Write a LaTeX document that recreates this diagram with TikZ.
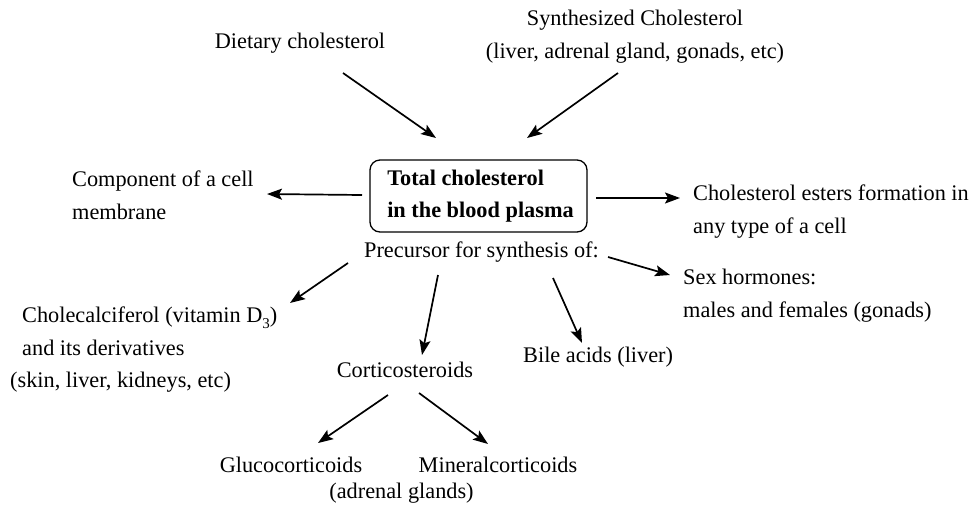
\documentclass[tikz,border=0pt]{standalone}
\usepackage{fontspec}
\setmainfont{Liberation Serif}
\usetikzlibrary{arrows.meta,calc}
\tikzset{
  lbl/.style={inner sep=0pt, font=\fontsize{22.3}{33}\selectfont},
  arr/.style={line width=1.7pt, -{Stealth[length=15pt,width=11pt,inset=3pt]}},
  mainbox/.style={draw, line width=1.3pt, rounded corners=10pt, inner sep=0pt,
    minimum width=217pt, minimum height=72pt, align=left,
    font=\fontsize{22.3}{32}\selectfont\bfseries}
}
\begin{document}
\begin{tikzpicture}[x=1pt,y=-1pt]
\useasboundingbox (0,0) rectangle (973,507);
\node[lbl] (diet) at (300,43) {Dietary cholesterol};
\node[lbl, align=center] (synth) at (635,36.5) {Synthesized Cholesterol\\(liver, adrenal gland, gonads, etc)};
\node[mainbox] (total) at (478.5,196) {\hspace*{4pt}Total cholesterol\\\hspace*{4pt}in the blood plasma};
\node[lbl, align=left, anchor=west] (memb) at (72,195) {Component of a cell\\membrane};
\node[lbl, align=left, anchor=west] (ester) at (693,212) {Cholesterol esters formation in\\any type of a cell};
\node[lbl] (prec) at (481.5,252) {Precursor for synthesis of:};
\node[lbl, align=left, anchor=west] (sex) at (683,296) {Sex hormones:\\males and females (gonads)};
\node[lbl, align=left, anchor=west] (vitd) at (22,331.5) {Cholecalciferol (vitamin D\raisebox{-0.25em}{\fontsize{15}{15}\selectfont 3})\\and its derivatives};
\node[lbl, anchor=west] (skin) at (10,382) {(skin, liver, kidneys, etc)};
\node[lbl] (cort) at (405,370) {Corticosteroids};
\node[lbl, anchor=west] (bile) at (523,357) {Bile acids (liver)};
\node[lbl] (gluco) at (291,465) {Glucocorticoids};
\node[lbl] (miner) at (498,465) {Mineralcorticoids};
\node[lbl] (adren) at (401.5,493) {(adrenal glands)};

\draw[arr] ([shift={(43,30)}]diet.center) -- ([shift={(-42.5,-58)}]total.center);
\draw[arr] ([shift={(-17,36.5)}]synth.center) -- ([shift={(48.5,-58)}]total.center);
\draw[arr] ([shift={(-116.5,-1)}]total.center) -- ([shift={(195,-1)}]memb.west);
\draw[arr] ([shift={(117.5,2)}]total.center) -- ([shift={(-13,-14)}]ester.west);
\draw[arr] ([shift={(-133.5,11)}]prec.center) -- ([shift={(268,-28.5)}]vitd.west);
\draw[arr] ([shift={(-43.5,23)}]prec.center) -- ([shift={(17,-15)}]cort.center);
\draw[arr] ([shift={(71.5,26)}]prec.center) -- ([shift={(59,-14)}]bile.west);
\draw[arr] ([shift={(126.5,5)}]prec.center) -- ([shift={(-13,-21)}]sex.west);
\draw[arr] ([shift={(-17,25)}]cort.center) -- ([shift={(27,-22)}]gluco.center);
\draw[arr] ([shift={(14,23)}]cort.center) -- ([shift={(-10,-21)}]miner.center);
\end{tikzpicture}
\end{document}
